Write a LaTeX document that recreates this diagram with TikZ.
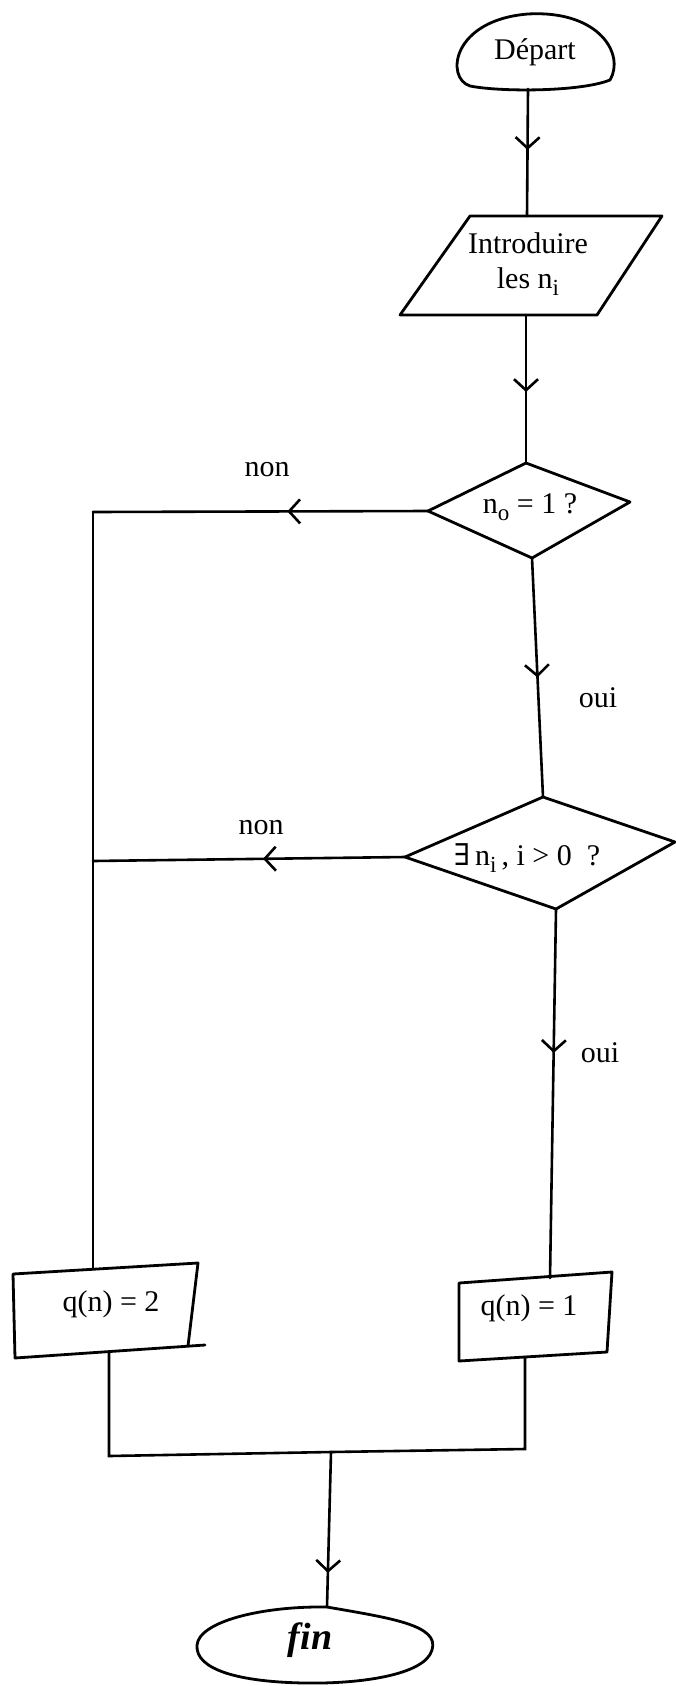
\documentclass[tikz,border=0pt]{standalone}
\usepackage{fontspec}
\setmainfont{Liberation Serif}
\newfontfamily\symf{DejaVu Serif}
\usetikzlibrary{arrows.meta,decorations.markings}

% lowered index, as typed on the original sheet
\newcommand\lsub[1]{\raisebox{-0.55ex}{\fontsize{23}{23}\selectfont #1}}

\tikzset{
  outline/.style={line width=2.8pt, line join=round, line cap=round},
  flow/.style={line width=2.6pt, line cap=round},
  lbl/.style={font=\fontsize{30}{35}\selectfont, inner sep=0pt, align=center},
  midarrow/.style={postaction={decorate},
    decoration={markings, mark=at position #1 with
      {\arrow[line width=2.6pt]{Straight Barb[length=11pt,width=24pt]}}}},
}

\begin{document}
\begin{tikzpicture}[x=1pt,y=-1pt]
\useasboundingbox (0,0) rectangle (676,1686);

% ---- start terminal
\draw[outline] (470,86) .. controls (445,78) and (452,20) .. (528,14)
  .. controls (600,10) and (625,55) .. (610,80)
  .. controls (580,92) and (500,92) .. (470,86) -- cycle;
\node[lbl] (dep) at (535,52) {Départ};
\coordinate (depB) at (528,89);

% ---- input parallelogram
\coordinate (inTL) at (470,216);
\coordinate (inTR) at (662,216);
\coordinate (inBR) at (597,315);
\coordinate (inBL) at (400,315);
\draw[outline] (inTL) -- (inTR) -- (inBR) -- (inBL) -- cycle;
\node[lbl] (intro) at (528,264) {Introduire\\les n\lsub{i}};
\coordinate (inT) at (527,216);
\coordinate (inB) at (526,315);

% ---- first test
\coordinate (d1T) at (526,463);
\coordinate (d1R) at (630,502);
\coordinate (d1B) at (532,558);
\coordinate (d1L) at (428,511);
\draw[outline] (d1T) -- (d1R) -- (d1B) -- (d1L) -- cycle;
\node[lbl] (t1) at (530,507) {n\lsub{o} = 1 ?};

% ---- second test
\coordinate (d2T) at (543,797);
\coordinate (d2R) at (675,842);
\coordinate (d2B) at (556,909);
\coordinate (d2L) at (405,857);
\draw[outline] (d2T) -- (d2R) -- (d2B) -- (d2L) -- cycle;
\node[lbl] (t2) at (527,858) {{\symf ∃}\,n\lsub{i}\,, i > 0 \ ?};

% ---- result boxes
\coordinate (q2TL) at (13,1274);
\coordinate (q2TR) at (198,1263);
\coordinate (q2BR) at (188,1346);
\coordinate (q2BL) at (15,1358);
\coordinate (q2X) at (205,1345);
\draw[outline] (q2BR) -- (q2TR) -- (q2TL) -- (q2BL) -- (q2X);
\node[lbl] (q2) at (111,1304) {q(n) = 2};
\coordinate (q2T) at (93,1269);
\coordinate (q2B) at (109,1352);

\coordinate (q1TL) at (459,1283);
\coordinate (q1TR) at (612,1272);
\coordinate (q1BR) at (607,1352);
\coordinate (q1BL) at (459,1361);
\draw[outline] (q1TL) -- (q1TR) -- (q1BR) -- (q1BL) -- cycle;
\node[lbl] (q1) at (529,1308) {q(n) = 1};
\coordinate (q1T) at (550,1278);
\coordinate (q1B) at (525,1357);

% ---- end terminal
\draw[outline] (327,1607) .. controls (390,1618) and (440,1625) .. (432,1650)
  .. controls (425,1675) and (360,1684) .. (305,1683)
  .. controls (240,1682) and (195,1670) .. (197,1645)
  .. controls (199,1622) and (260,1606) .. (327,1607) -- cycle;
\node[lbl, font=\fontsize{38}{40}\selectfont\itshape\bfseries] (fin) at (310,1640) {fin};
\coordinate (finT) at (327,1607);

% ---- joints
\coordinate (c1) at (93,512);
\coordinate (c2) at (93,861);
\coordinate (mL) at (109,1456);
\coordinate (mR) at (525,1449);
\coordinate (mM) at (331,1452);

% ---- connectors
\draw[flow, midarrow=0.48] (depB) -- (inT);
\draw[flow, midarrow=0.52] (inB) -- (d1T);
\draw[flow, midarrow=0.42] (d1L) -- (c1);
\draw[flow] (c1) -- (c2) -- (q2T);
\draw[flow, midarrow=0.5] (d1B) -- (d2T);
\draw[flow, midarrow=0.455] (d2L) -- (c2);
\draw[flow, midarrow=0.39] (d2B) -- (q1T);
\draw[flow] (q2B) -- (mL) -- (mM) -- (mR) -- (q1B);
\draw[flow, midarrow=0.78] (mM) -- (finT);

% ---- branch labels
\node[lbl] (non1) at (267,470) {non};
\node[lbl] (non2) at (261,828) {non};
\node[lbl] (oui1) at (598,698) {oui};
\node[lbl] (oui2) at (600,1053) {oui};
\end{tikzpicture}
\end{document}
